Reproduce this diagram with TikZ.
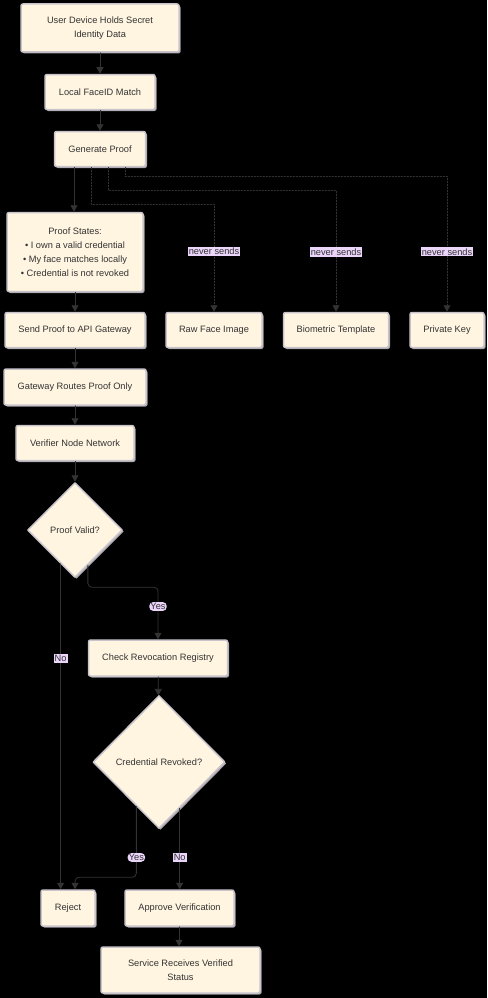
\documentclass[tikz,border=0pt]{standalone}
\usepackage{fontspec}
\setmainfont{Liberation Sans}
\usetikzlibrary{shapes.geometric,shadows,arrows.meta,calc}
\definecolor{boxfill}{HTML}{FFF5E1}
\definecolor{boxline}{HTML}{C9C4CC}
\definecolor{boxshade}{HTML}{A8A4AB}
\definecolor{linkcol}{HTML}{333333}
\definecolor{tagfill}{HTML}{EBD5FA}
\begin{document}
\begin{tikzpicture}[x=1pt,y=-1pt,line cap=round,line join=round,
  every node/.style={font=\fontsize{9.25}{14}\selectfont,text=linkcol},
  box/.style={rectangle,rounded corners=2pt,fill=boxfill,draw=boxline,line width=1.5pt,
    inner sep=0pt,align=center,
    drop shadow={shadow xshift=1.5pt,shadow yshift=-1.5pt,fill=boxshade,opacity=1}},
  choice/.style={diamond,fill=boxfill,draw=boxline,line width=1.5pt,inner sep=0pt,
    drop shadow={shadow xshift=1.5pt,shadow yshift=-1.5pt,fill=boxshade,opacity=1}},
  flow/.style={draw=linkcol,line width=0.8pt,-{Triangle[length=6.5pt,width=7pt]}},
  never/.style={flow,dashed,dash pattern=on 1.5pt off 1.5pt},
  tag/.style={fill=tagfill,inner sep=1.2pt}]
\fill[black] (0,0) rectangle (487,998);
\coordinate (Dev)     at (100,28);
\coordinate (Face)    at (100,92);
\coordinate (Gen)     at (100,149);
\coordinate (States)  at (75,252);
\coordinate (Send)    at (75,330);
\coordinate (Raw)     at (214,330);
\coordinate (Bio)     at (336,330);
\coordinate (Key)     at (447,330);
\coordinate (Route)   at (75,387);
\coordinate (Net)     at (75,443);
\coordinate (PV)      at (75,530);
\coordinate (Check)   at (158,658);
\coordinate (CR)      at (159,762);
\coordinate (Reject)  at (68,908);
\coordinate (Approve) at (179.5,908);
\coordinate (Service) at (180.5,970);

% Main column of steps.
\node[box,minimum width=158,minimum height=48] (dev) at (Dev) {User Device Holds Secret\\Identity Data};
\node[box,minimum width=110,minimum height=35] (face) at (Face) {Local FaceID Match};
\node[box,minimum width=91,minimum height=35] (gen) at (Gen) {Generate Proof};
\node[box,minimum width=136,minimum height=79] (states) at (States)
  {Proof States:\\\textbullet{} I own a valid credential\\\textbullet{} My face matches locally\\\textbullet{} Credential is not revoked};
\node[box,minimum width=140,minimum height=35] (send) at (Send) {Send Proof to API Gateway};
\node[box,minimum width=142,minimum height=36] (route) at (Route) {Gateway Routes Proof Only};
\node[box,minimum width=118,minimum height=35] (net) at (Net) {Verifier Node Network};
\node[choice,minimum width=95,minimum height=95] (pv) at (PV) {Proof Valid?};
\node[box,minimum width=139,minimum height=36] (check) at (Check) {Check Revocation Registry};
\node[choice,minimum width=132,minimum height=133] (cr) at (CR) {Credential Revoked?};
\node[box,minimum width=54,minimum height=36] (reject) at (Reject) {Reject};
\node[box,minimum width=109,minimum height=36] (approve) at (Approve) {Approve Verification};
\node[box,minimum width=159,minimum height=46] (service) at (Service) {Service Receives Verified\\Status};

% Data that stays on the device.
\node[box,minimum width=96,minimum height=35] (raw) at (Raw) {Raw Face Image};
\node[box,minimum width=105,minimum height=35] (bio) at (Bio) {Biometric Template};
\node[box,minimum width=74,minimum height=35] (key) at (Key) {Private Key};

% Straight links down the column.
\draw[flow] (dev) -- (face);
\draw[flow] (face) -- (gen);
\draw[flow] ([xshift=-26pt]gen.south) -- ([xshift=-26pt]gen.south |- states.north);
\draw[flow] (states) -- (send);
\draw[flow] (send) -- (route);
\draw[flow] (route) -- (net);
\draw[flow] (net) -- (pv);
\draw[flow] (check) -- (cr);
\draw[flow] ([xshift=-0.5pt]approve.south) -- ([xshift=-0.5pt]approve.south |- service.north);

% Dashed links to what is never sent.
\draw[never] ([xshift=-9pt]gen.south) -- ++(0,37) -| node[tag,pos=0.72] {never sends} (raw.north);
\draw[never] ([xshift=8pt]gen.south) -- ++(0,23) -| node[tag,pos=0.754] {never sends} (bio.north);
\draw[never] ([xshift=25pt]gen.south) -- ++(0,9) -| node[tag,pos=0.779] {never sends} (key.north);

% Branches of the two decisions.
\draw[flow,rounded corners=4pt] (pv.-70) |- ($(check.north)+(0,-52)$) -- node[tag,pos=0.37] {Yes} (check.north);
\draw[flow] (pv.-113) -- node[tag,pos=0.29] {No} (pv.-113 |- reject.north);
\draw[flow,rounded corners=4pt] (cr.-117) |- node[tag,pos=0.36] {Yes} ($([xshift=7pt]reject.north)+(0,-12)$) -- ([xshift=7pt]reject.north);
\draw[flow] (cr.-66.5) -- node[tag,pos=0.61] {No} (cr.-66.5 |- approve.north);
\end{tikzpicture}
\end{document}
